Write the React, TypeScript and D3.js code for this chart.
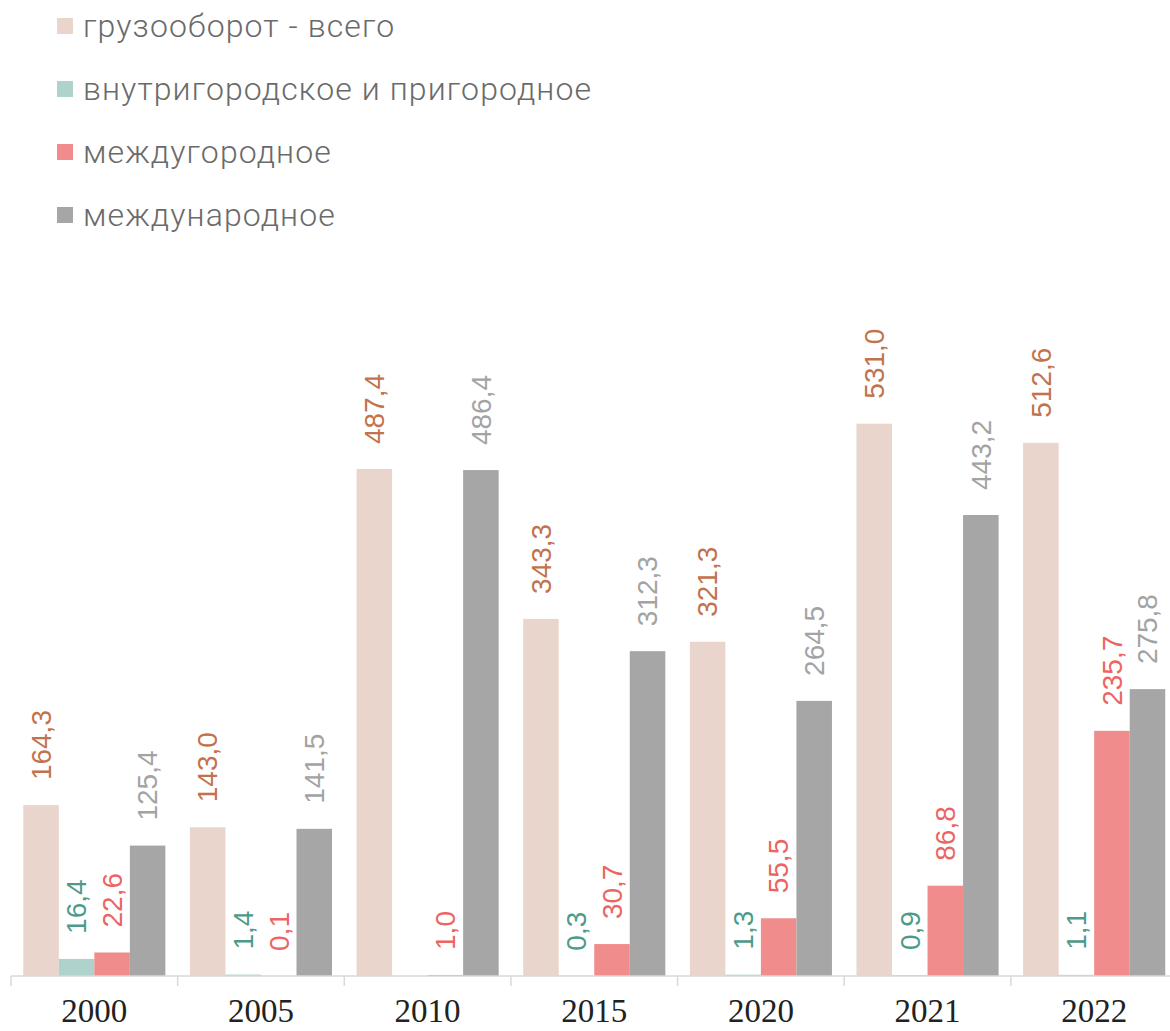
import * as d3 from "d3";

const years = ["2000", "2005", "2010", "2015", "2020", "2021", "2022"];
const seriesNames = [
  "грузооборот - всего",
  "внутригородское и пригородное",
  "междугородное",
  "международное",
];
const total = [164.3, 143.0, 487.4, 343.3, 321.3, 531.0, 512.6];
const urban = [16.4, 1.4, null, 0.3, 1.3, 0.9, 1.1];
const intercity = [22.6, 0.1, 1.0, 30.7, 55.5, 86.8, 235.7];
const international = [125.4, 141.5, 486.4, 312.3, 264.5, 443.2, 275.8];

const barColors = ["#E9D5CC", "#AFD3CC", "#F08C8B", "#A6A6A6"];
const labelColors = ["#C2724C", "#4E9A8A", "#EC6562", "#A3A3A3"];

export default function App() {
  const width = 1170;
  const height = 1031;
  const baseline = 976;

  const series = [total, urban, intercity, international];

  const x = d3.scaleBand().domain(years).range([11, 1177.5]).padding(0);
  const sub = d3
    .scaleBand()
    .domain(seriesNames)
    .range([0, x.bandwidth()])
    .paddingInner(0)
    .paddingOuter(0.345);
  const y = d3.scaleLinear().domain([0, 600]).range([baseline, baseline - 624.1]);

  const fmt = (v) => v.toFixed(1).replace(".", ",");

  return (
    <div style={{ position: "absolute", left: 0, top: 0 }}>
      <svg width={width} height={height} style={{ display: "block" }}>
        {/* Legend */}
        {seriesNames.map((name, i) => (
          <g key={name} transform={`translate(57, ${26 + i * 63})`}>
            <rect x={0} y={-8} width={16} height={16} fill={barColors[i]} />
            <text
              x={26}
              dy="0.35em"
              fontFamily="Roboto, 'Open Sans', sans-serif"
              fontWeight={300}
              fontSize={32}
              letterSpacing={1.1}
              fill="#6a6a6a"
            >
              {name}
            </text>
          </g>
        ))}

        {/* Bars */}
        {years.map((yr, j) => (
          <g key={yr} transform={`translate(${x(yr)}, 0)`}>
            {series.map((s, i) =>
              s[j] == null ? null : (
                <rect
                  key={i}
                  x={sub(seriesNames[i])}
                  y={y(s[j])}
                  width={sub.bandwidth()}
                  height={baseline - y(s[j])}
                  fill={barColors[i]}
                />
              )
            )}
            {series.map((s, i) =>
              s[j] == null ? null : (
                <text
                  key={"l" + i}
                  transform={`translate(${sub(seriesNames[i]) + sub.bandwidth() / 2}, ${y(s[j]) - 25}) rotate(-90)`}
                  dy="0.35em"
                  fontFamily="'Liberation Sans', Arial, sans-serif"
                  fontSize={28}
                  fill={labelColors[i]}
                >
                  {fmt(s[j])}
                </text>
              )
            )}
          </g>
        ))}

        {/* X axis */}
        <line x1={11} x2={width} y1={baseline} y2={baseline} stroke="#d9d9d9" strokeWidth={1.5} />
        {years.map((yr) => (
          <line
            key={"t" + yr}
            x1={x(yr)}
            x2={x(yr)}
            y1={baseline}
            y2={baseline + 10}
            stroke="#d9d9d9"
            strokeWidth={1.5}
          />
        ))}
        {years.map((yr) => (
          <text
            key={"y" + yr}
            x={x(yr) + x.bandwidth() / 2}
            y={1022}
            textAnchor="middle"
            fontFamily="'Liberation Serif', 'Times New Roman', serif"
            fontSize={33}
            fill="#222"
          >
            {yr}
          </text>
        ))}
      </svg>
    </div>
  );
}
